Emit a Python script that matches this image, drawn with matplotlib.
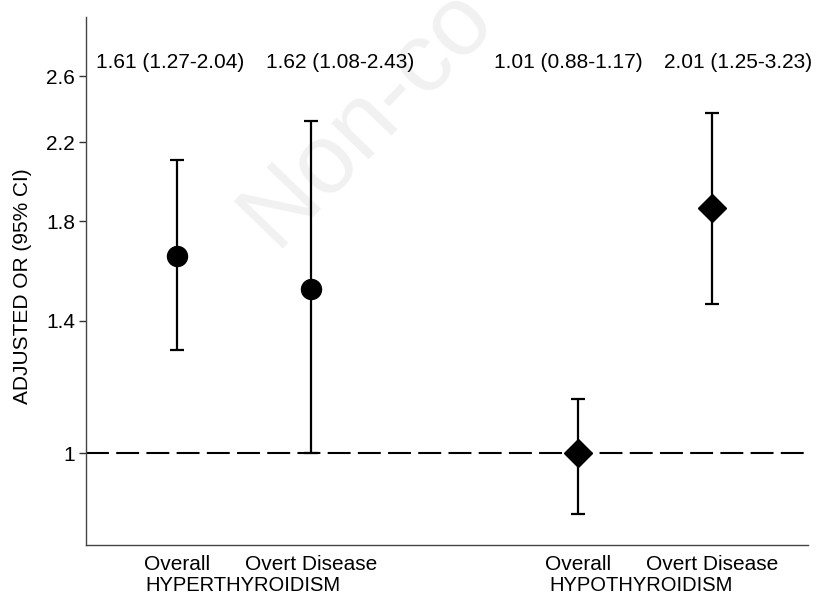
import matplotlib.pyplot as plt
from matplotlib.ticker import FixedLocator, NullLocator

plt.rcParams['font.family'] = ['Liberation Sans', 'DejaVu Sans']

# datos
categorias = ["Overall", "Overt Disease", "Overall", "Overt Disease"]
grupos = ["HYPERTHYROIDISM", "HYPOTHYROIDISM"]
posiciones = [1, 2, 4, 5]
or_ajustado = [1.648, 1.516, 1.0, 1.862]
ic_inferior = [1.30, 1.0, 0.857, 1.459]
ic_superior = [2.10, 2.32, 1.149, 2.368]
etiquetas = ["1.61 (1.27-2.04)", "1.62 (1.08-2.43)", "1.01 (0.88-1.17)", "2.01 (1.25-3.23)"]
marcadores = ["o", "o", "D", "D"]
ticks_y = [1, 1.4, 1.8, 2.2, 2.6]


def main():
    fig = plt.figure(figsize=(8.19, 5.96), dpi=100)
    ax = fig.add_axes([0.105, 0.0856, 0.8816, 0.886])
    ax.set_facecolor("none")

    # marca de agua (por detras de todo)
    fig.text(0.336, 0.583, "Non-co", fontsize=71, color="#f1f1f1",
             rotation=46, rotation_mode="anchor", ha="left", va="baseline", zorder=-5)

    ax.axhline(1, color="black", lw=1.5, ls=(0, (11, 3.5)), zorder=1)

    for i in range(len(posiciones)):
        err = [[or_ajustado[i] - ic_inferior[i]], [ic_superior[i] - or_ajustado[i]]]
        ax.errorbar(posiciones[i], or_ajustado[i], yerr=err, fmt=marcadores[i],
                    color="black", ms=14.4, capsize=5, elinewidth=1.6,
                    capthick=1.6, zorder=3)

    pos_etiquetas = [0.943, 2.217, 3.923, 5.197]
    for x, t in zip(pos_etiquetas, etiquetas):
        ax.text(x, 2.69, t, ha="center", va="center", fontsize=15, color="black")

    ax.set_yscale("log")
    ax.set_ylim(0.793, 3.02)
    ax.set_xlim(0.317, 5.72)
    ax.yaxis.set_major_locator(FixedLocator(ticks_y))
    ax.yaxis.set_minor_locator(NullLocator())
    ax.set_yticklabels([str(t) for t in ticks_y])
    ax.set_xticks(posiciones)
    ax.set_xticklabels(categorias)
    ax.tick_params(axis="x", length=0, pad=7, labelsize=15)
    ax.tick_params(axis="y", length=5, width=1, pad=3, labelsize=15, color="#333333")

    for g, x in zip(grupos, [1.49, 4.47]):
        ax.text(x, -0.076, g, ha="center", va="center", fontsize=14.5,
                transform=ax.get_xaxis_transform())

    ax.set_ylabel("ADJUSTED OR (95% CI)", fontsize=15)
    ax.yaxis.set_label_coords(-0.075, 0.49)

    for s in ["top", "right"]:
        ax.spines[s].set_visible(False)
    for s in ["left", "bottom"]:
        ax.spines[s].set_color("#444444")
        ax.spines[s].set_linewidth(1)

    fig.savefig("out.png", dpi=100)


if __name__ == "__main__":
    main()
